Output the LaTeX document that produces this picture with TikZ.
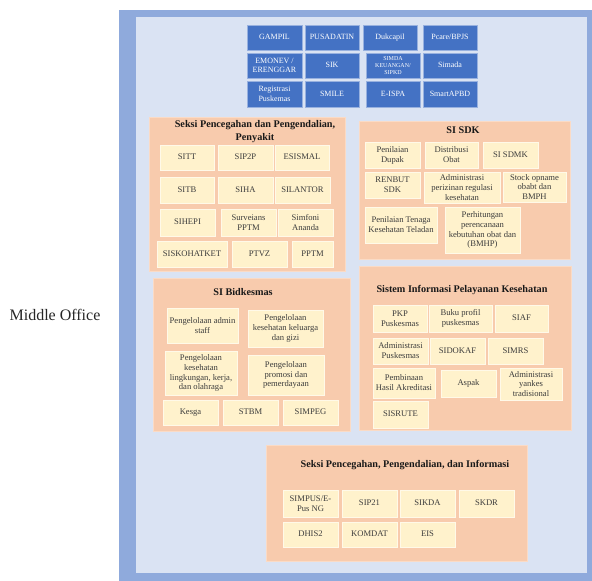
\documentclass[tikz,border=0pt]{standalone}
\usepackage{fontspec}
\setmainfont{Liberation Serif}
\usepackage{xcolor}
\usepackage{tikz}
\definecolor{frameblue}{RGB}{143,170,220}
\definecolor{bglight}{RGB}{218,227,243}
\definecolor{sysblue}{RGB}{68,114,196}
\definecolor{peach}{RGB}{248,203,173}
\definecolor{cream}{RGB}{255,242,204}
\definecolor{inkgray}{RGB}{60,60,60}
\tikzset{
  sysbox/.style={fill=sysblue, draw=sysblue!55!white, line width=0.5pt, text=white,
    font=\fontsize{8}{9.4}\selectfont, align=center, inner sep=0pt},
  cellbox/.style={fill=cream, draw=white!55!cream, line width=0.5pt, text=inkgray,
    font=\fontsize{8.6}{9.9}\selectfont, align=center, inner sep=0pt},
  oneline/.style={text height=0.68em, text depth=0.22em},  % same baseline for one-liners
  sysone/.style={sysbox, oneline},
  cellone/.style={cellbox, oneline},
  panel/.style={fill=peach, draw=peach!70!white, line width=0.5pt, inner sep=0pt},
  paneltitle/.style={font=\fontsize{10.2}{12.8}\selectfont\bfseries, align=center, text=black!90}
}
% box from corner (x1,y1) to (x2,y2), y counted downward
\newcommand{\Cell}[7][cellbox]{%
  \node[#1, minimum width={(#5-#3)*1pt}, minimum height={(#6-#4)*1pt}]
    (#2) at ({(#3+#5)/2},{(#4+#6)/2}) {#7};%
}

\begin{document}
\begin{tikzpicture}[x=1pt, y=-1pt]
  \useasboundingbox (0,0) rectangle (592,581);
  % frame
  \fill[frameblue] (119,10) rectangle (592,581);
  \fill[bglight] (136,17) rectangle (587,573);
  \node[font=\fontsize{16}{18}\selectfont, text=black!85] (mid) at (55,315) {Middle Office};

  % shared systems on top
  \Cell[sysone]{gampil}{247}{25}{302}{50}{GAMPIL}
  \Cell[sysone]{pusadatin}{305}{25}{359}{50}{PUSADATIN}
  \Cell[sysone]{dukcapil}{363}{25}{417}{50}{Dukcapil}
  \Cell[sysone]{pcare}{423}{25}{477}{50}{Pcare/BPJS}
  \Cell[sysbox]{emonev}{247}{53}{302}{78}{EMONEV /\\ERENGGAR}
  \Cell[sysone]{sik}{305}{53}{359}{78}{SIK}
  \Cell[sysbox, font=\fontsize{6}{6.9}\selectfont]{simda}{366}{53}{420}{78}{SIMDA\\KEUANGAN/\\SIPKD}
  \Cell[sysone]{simada}{423}{53}{477}{78}{Simada}
  \Cell[sysbox]{registrasi}{247}{81}{302}{107}{Registrasi\\Puskemas}
  \Cell[sysone]{smile}{305}{81}{359}{107}{SMILE}
  \Cell[sysone]{eispa}{366}{81}{420}{107}{E-ISPA}
  \Cell[sysone]{smartapbd}{423}{81}{477}{107}{SmartAPBD}

  % Seksi P2P
  \Cell[panel]{pP2P}{149}{117}{345}{271}{}
  \node[paneltitle] (tP2P) at (255,131.5) {Seksi Pencegahan dan Pengendalian,\\Penyakit};
  \Cell[cellone]{sitt}{160}{145}{214}{170}{SITT}
  \Cell[cellone]{sip2p}{218}{145}{273}{170}{SIP2P}
  \Cell[cellone]{esismal}{275}{145}{329}{170}{ESISMAL}
  \Cell[cellone]{sitb}{160}{177}{214}{203}{SITB}
  \Cell[cellone]{siha}{218}{177}{273}{203}{SIHA}
  \Cell[cellone]{silantor}{275}{177}{330}{203}{SILANTOR}
  \Cell[cellone]{sihepi}{160}{209}{215}{236}{SIHEPI}
  \Cell{surveians}{221}{209}{276}{236}{Surveians\\PPTM}
  \Cell{simfoni}{278}{209}{333}{236}{Simfoni\\Ananda}
  \Cell[cellone]{siskohatket}{157}{241}{227}{267}{SISKOHATKET}
  \Cell[cellone]{ptvz}{232}{241}{287}{267}{PTVZ}
  \Cell[cellone]{pptm}{292}{241}{333}{267}{PPTM}

  % SI SDK
  \Cell[panel]{pSDK}{359}{121}{570}{259}{}
  \node[paneltitle] (tSDK) at (463,130) {SI SDK};
  \Cell{dupak}{365}{142}{420}{168}{Penilaian\\Dupak}
  \Cell{distribusi}{425}{142}{478}{168}{Distribusi\\Obat}
  \Cell[cellone]{sisdmk}{483}{142}{538}{168}{SI SDMK}
  \Cell{renbut}{365}{172}{420}{198}{RENBUT\\SDK}
  \Cell{perizinan}{424}{172}{500}{203}{Administrasi\\perizinan regulasi\\kesehatan}
  \Cell{opname}{503}{172}{566}{202}{Stock opname\\obabt dan\\BMPH}
  \Cell{teladan}{365}{207}{437}{243}{Penilaian Tenaga\\Kesehatan Teladan}
  \Cell{bmhp}{445}{207}{520}{253}{Perhitungan\\perencanaan\\kebutuhan obat dan\\(BMHP)}

  % SI Bidkesmas
  \Cell[panel]{pBid}{153}{278}{350}{431}{}
  \node[paneltitle] (tBid) at (243,292) {SI Bidkesmas};
  \Cell{admin}{167}{308}{238}{343}{Pengelolaan admin\\staff}
  \Cell{keluarga}{248}{310}{323}{347}{Pengelolaan\\kesehatan keluarga\\dan gizi}
  \Cell{lingkungan}{165}{351}{237}{395}{Pengelolaan\\kesehatan\\lingkungan, kerja,\\dan olahraga}
  \Cell{promosi}{248}{355}{324}{395}{Pengelolaan\\promosi dan\\pemerdayaan}
  \Cell[cellone]{kesga}{163}{400}{218}{425}{Kesga}
  \Cell[cellone]{stbm}{223}{400}{278}{425}{STBM}
  \Cell[cellone]{simpeg}{283}{400}{338}{425}{SIMPEG}

  % Sistem Informasi Pelayanan Kesehatan
  \Cell[panel]{pYan}{359}{266}{571}{430}{}
  \node[paneltitle] (tYan) at (462,290) {Sistem Informasi Pelayanan Kesehatan};
  \Cell{pkp}{373}{305}{427}{332}{PKP\\Puskesmas}
  \Cell{buku}{429}{305}{492}{332}{Buku profil\\puskesmas}
  \Cell[cellone]{siaf}{495}{305}{548}{332}{SIAF}
  \Cell{adminpusk}{373}{338}{428}{364}{Administrasi\\Puskesmas}
  \Cell[cellone]{sidokaf}{430}{338}{485}{364}{SIDOKAF}
  \Cell[cellone]{simrs}{488}{338}{543}{364}{SIMRS}
  \Cell{akreditasi}{373}{368}{435}{398}{Pembinaan\\Hasil Akreditasi}
  \Cell[cellone]{aspak}{441}{370}{496}{397}{Aspak}
  \Cell{yankes}{500}{368}{562}{400}{Administrasi\\yankes\\tradisional}
  \Cell[cellone]{sisrute}{373}{401}{428}{428}{SISRUTE}

  % Seksi P2 dan Informasi
  \Cell[panel]{pInfo}{266}{445}{527}{561}{}
  \node[paneltitle] (tInfo) at (405,465) {Seksi Pencegahan, Pengendalian, dan Informasi};
  \Cell{simpus}{283}{490}{338}{517}{SIMPUS/E-\\Pus NG}
  \Cell[cellone]{sip21}{342}{490}{397}{517}{SIP21}
  \Cell[cellone]{sikda}{400}{490}{455}{517}{SIKDA}
  \Cell[cellone]{skdr}{459}{490}{514}{517}{SKDR}
  \Cell[cellone]{dhis}{283}{522}{338}{547}{DHIS2}
  \Cell[cellone]{komdat}{342}{522}{397}{547}{KOMDAT}
  \Cell[cellone]{eis}{400}{522}{455}{547}{EIS}
\end{tikzpicture}
\end{document}
